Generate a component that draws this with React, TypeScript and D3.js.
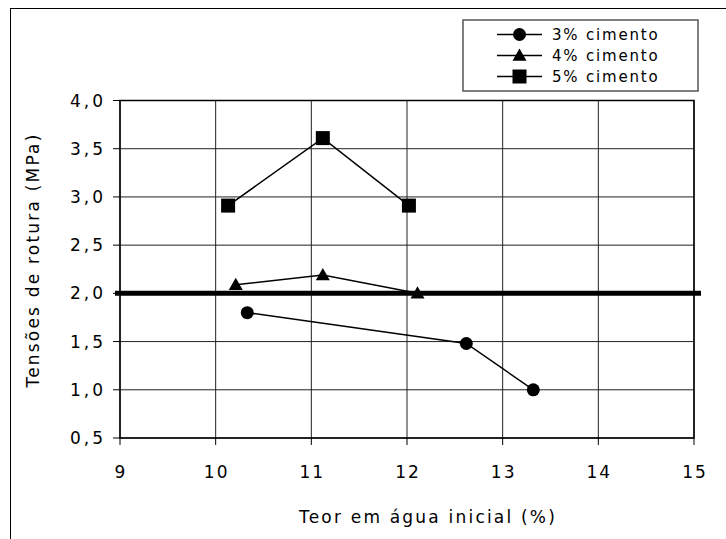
import React from "react";
import * as d3 from "d3";

// Series: initial water content (%) vs. breaking stress (MPa)
const cement3X = [10.33, 12.62, 13.32];
const cement3Y = [1.8, 1.48, 1.0];
const cement4X = [10.21, 11.12, 12.11];
const cement4Y = [2.09, 2.19, 2.0];
const cement5X = [10.13, 11.12, 12.02];
const cement5Y = [2.91, 3.61, 2.91];

const seriesNames = ["3% cimento", "4% cimento", "5% cimento"];
const xTicks = [9, 10, 11, 12, 13, 14, 15];
const yTicks = [0.5, 1.0, 1.5, 2.0, 2.5, 3.0, 3.5, 4.0];
const thresholdValue = 2.0;

const xTitle = "Teor em água inicial (%)";
const yTitle = "Tensões de rotura (MPa)";

const W = 726;
const H = 539;
const plot = { left: 120, right: 694, top: 100.5, bottom: 438 };
const FONT = "'DejaVu Sans', Verdana, sans-serif";

export default function App() {
  const x = d3.scaleLinear().domain([9, 15]).range([plot.left, plot.right]);
  const y = d3.scaleLinear().domain([0.5, 4.0]).range([plot.bottom, plot.top]);

  const series = [
    { xs: cement3X, ys: cement3Y, shape: "circle" },
    { xs: cement4X, ys: cement4Y, shape: "triangle" },
    { xs: cement5X, ys: cement5Y, shape: "square" },
  ];

  const line = d3
    .line<[number, number]>()
    .x((d) => x(d[0]))
    .y((d) => y(d[1]));

  const marker = (shape: string, cx: number, cy: number, key: string) => {
    if (shape === "circle") return <circle key={key} cx={cx} cy={cy} r={6.5} fill="#000" />;
    if (shape === "square")
      return <rect key={key} x={cx - 7} y={cy - 7} width={14} height={14} fill="#000" />;
    const s = 7;
    return (
      <path
        key={key}
        d={`M${cx},${cy - s} L${cx + s},${cy + s * 0.75} L${cx - s},${cy + s * 0.75} Z`}
        fill="#000"
      />
    );
  };

  const legend = { x: 463, y: 20, w: 235, h: 71 };
  const legendRows = [34.5, 55.5, 76.5];

  return (
    <svg
      width={W}
      height={H}
      style={{ position: "absolute", left: 0, top: 0, background: "#fff" }}
      fontFamily={FONT}
    >
      {/* outer chart frame */}
      <rect x={10.5} y={8.5} width={W + 20} height={H + 20} fill="none" stroke="#000" strokeWidth={1} />

      {/* gridlines */}
      {xTicks.map((t) => (
        <line key={"gx" + t} x1={x(t)} x2={x(t)} y1={plot.top} y2={plot.bottom} stroke="#222" strokeWidth={1} />
      ))}
      {yTicks.map((t) => (
        <line key={"gy" + t} x1={plot.left} x2={plot.right} y1={y(t)} y2={y(t)} stroke="#222" strokeWidth={1} />
      ))}

      {/* plot frame */}
      <rect
        x={plot.left}
        y={plot.top}
        width={plot.right - plot.left}
        height={plot.bottom - plot.top}
        fill="none"
        stroke="#000"
        strokeWidth={1.5}
      />

      {/* tick marks */}
      {xTicks.map((t) => (
        <line key={"tx" + t} x1={x(t)} x2={x(t)} y1={plot.bottom} y2={plot.bottom + 7} stroke="#000" />
      ))}
      {yTicks.map((t) => (
        <line key={"ty" + t} x1={plot.left - 7} x2={plot.left} y1={y(t)} y2={y(t)} stroke="#000" />
      ))}

      {/* tick labels */}
      {xTicks.map((t) => (
        <text key={"lx" + t} x={x(t) + 1} y={plot.bottom + 40} textAnchor="middle" fontSize={17} letterSpacing={2}>
          {String(t)}
        </text>
      ))}
      {yTicks.map((t) => (
        <text
          key={"ly" + t}
          x={plot.left - 14}
          y={y(t)}
          dy="0.36em"
          textAnchor="end"
          fontSize={17}
          letterSpacing={3}
        >
          {d3.format(".1f")(t).replace(".", ",")}
        </text>
      ))}

      {/* threshold line */}
      <line
        x1={plot.left - 5}
        x2={plot.right + 7}
        y1={y(thresholdValue)}
        y2={y(thresholdValue)}
        stroke="#000"
        strokeWidth={5}
      />

      {/* data series */}
      {series.map((s, i) => {
        const pts = s.xs.map((v, j) => [v, s.ys[j]] as [number, number]);
        return (
          <g key={"s" + i}>
            <path d={line(pts) || ""} fill="none" stroke="#000" strokeWidth={1.5} />
            {pts.map((p, j) => marker(s.shape, x(p[0]), y(p[1]), `m${i}-${j}`))}
          </g>
        );
      })}

      {/* axis titles */}
      <text x={428} y={523} textAnchor="middle" fontSize={17} letterSpacing={2.2}>
        {xTitle}
      </text>
      <text
        transform={`translate(39, 260) rotate(-90)`}
        textAnchor="middle"
        fontSize={17}
        letterSpacing={2.2}
      >
        {yTitle}
      </text>

      {/* legend */}
      <rect x={legend.x} y={legend.y} width={legend.w} height={legend.h} fill="#fff" stroke="#555" strokeWidth={1.5} />
      {seriesNames.map((name, i) => {
        const ry = legendRows[i];
        const shape = series[i].shape;
        return (
          <g key={"lg" + i}>
            <line x1={497} x2={542} y1={ry} y2={ry} stroke="#000" strokeWidth={1.5} />
            {marker(shape, 519.5, ry, "lm" + i)}
            <text x={552} y={ry} dy="0.36em" fontSize={15} letterSpacing={1.8}>
              {name}
            </text>
          </g>
        );
      })}
    </svg>
  );
}
